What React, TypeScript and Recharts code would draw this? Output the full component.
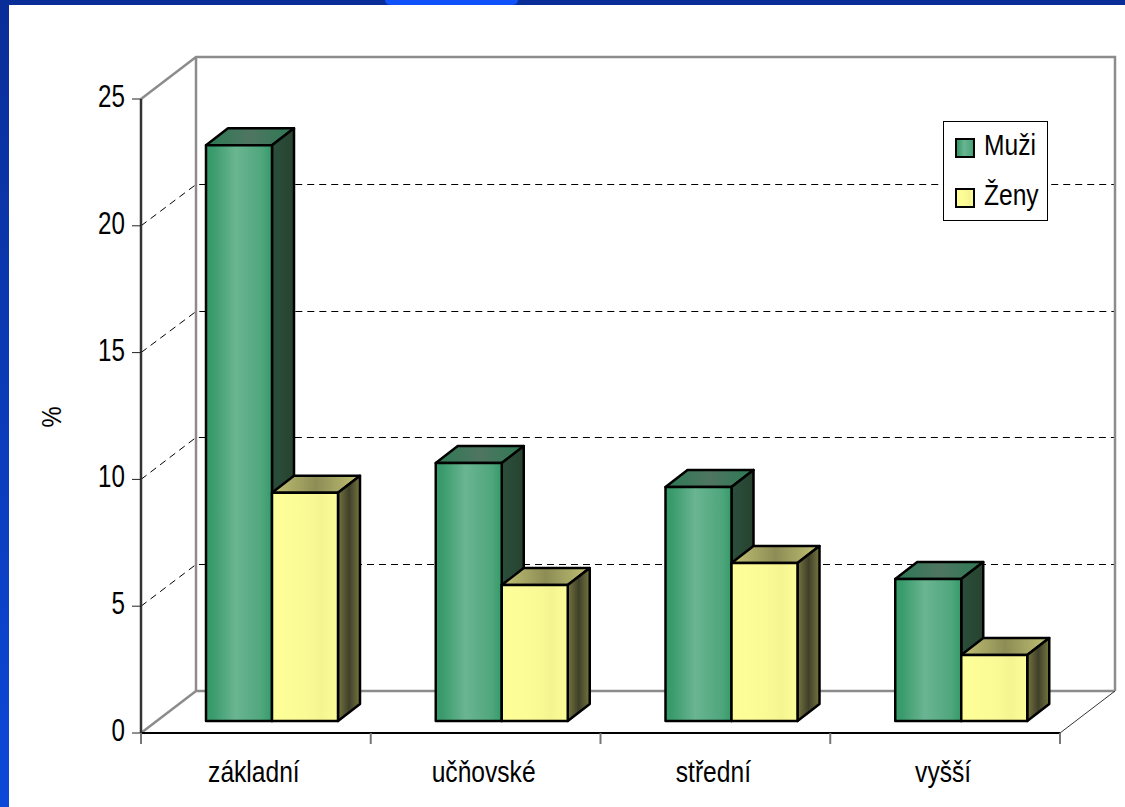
import { BarChart, Bar, XAxis, YAxis, CartesianGrid, Legend } from 'recharts';

const categories = ['základní', 'učňovské', 'střední', 'vyšší'];
const muzi = [22.7, 10.17, 9.23, 5.6];
const zeny = [9.0, 5.36, 6.23, 2.6];
const yTicks = [0, 5, 10, 15, 20, 25];

const data = categories.map((name, i) => ({ name, muzi: muzi[i], zeny: zeny[i] }));

// plot box of the front plane
const LEFT = 141;
const TOP = 99;
const PLOT_W = 919;
const PLOT_H = 634;
const X_AXIS_H = 30;
// depth of the 3D box and of the bars
const WALL_DX = 55;
const WALL_DY = 42;
const BAR_SHIFT_X = 16;
const BAR_SHIFT_Y = 12;
const BAR_DX = 22;
const BAR_DY = 17;
const BAND = PLOT_W / categories.length;
const FONT = 'Liberation Sans, Arial, sans-serif';

function Wall(props: any) {
  const { x1, y1, x2 } = props;
  const bx1 = x1 + WALL_DX;
  const bx2 = x2 + WALL_DX;
  const by = y1 - WALL_DY;
  if (Math.abs(y1 - TOP) < 1) {
    // top of the box and both back wall edges
    return (
      <g fill="none" stroke="#8c8c8c" strokeWidth={2.5}>
        <path d={`M${x1} ${y1}L${bx1} ${by}L${bx2} ${by}L${bx2} ${by + PLOT_H}`} />
        <path d={`M${bx1} ${by}L${bx1} ${by + PLOT_H}`} />
      </g>
    );
  }
  if (Math.abs(y1 - (TOP + PLOT_H)) < 1) {
    return (
      <g fill="none" strokeWidth={2.5}>
        <path d={`M${x1} ${y1}L${bx1} ${by}L${bx2} ${by}`} stroke="#8c8c8c" />
        <path d={`M${x2} ${y1}L${bx2} ${by}`} stroke="#333" strokeWidth={1} />
      </g>
    );
  }
  const crisp = Math.round(by) + 0.5;
  return (
    <path
      d={`M${x1} ${y1}L${bx1} ${crisp}L${bx2} ${crisp}`}
      fill="none"
      stroke="#000"
      strokeWidth={1}
      strokeDasharray="7 5"
    />
  );
}

function Box3D(props: any) {
  const { x, y, width, height, front, topFace, side } = props;
  const fx = x + BAR_SHIFT_X;
  const fy = y - BAR_SHIFT_Y;
  const base = fy + height;
  const r = fx + width;
  return (
    <g stroke="#000" strokeWidth={2.5} strokeLinejoin="round">
      <path d={`M${fx} ${fy}L${fx + BAR_DX} ${fy - BAR_DY}L${r + BAR_DX} ${fy - BAR_DY}L${r} ${fy}Z`} fill={topFace} />
      <path d={`M${r} ${fy}L${r + BAR_DX} ${fy - BAR_DY}L${r + BAR_DX} ${base - BAR_DY}L${r} ${base}Z`} fill={side} />
      <rect x={fx} y={fy} width={width} height={height} fill={front} />
    </g>
  );
}

function YTick(props: any) {
  const { x, y, payload } = props;
  return (
    <text transform={`translate(${x} ${y + 8}) scale(0.78 1)`} textAnchor="end" fontSize={31} fontFamily={FONT} fill="#000">
      {payload.value}
    </text>
  );
}

function XTick(props: any) {
  const { x, y, payload, index } = props;
  const axisY = TOP + PLOT_H;
  return (
    <g>
      <line x1={x + BAND / 2} x2={x + BAND / 2} y1={axisY} y2={axisY + 11} stroke="#777" strokeWidth={2} />
      {index === 0 && <line x1={x - BAND / 2} x2={x - BAND / 2} y1={axisY} y2={axisY + 11} stroke="#777" strokeWidth={2} />}
      <text transform={`translate(${x - 2} ${y + 41}) scale(0.82 1)`} textAnchor="middle" fontSize={30} fontFamily={FONT} fill="#000">
        {payload.value}
      </text>
    </g>
  );
}

function LegendBox(props: any) {
  const { payload } = props;
  return (
    <svg width={105} height={100} style={{ display: 'block' }}>
      <rect x={0.5} y={0.5} width={104} height={99} fill="#fff" stroke="#000" />
      {(payload || []).map((entry: any, i: number) => (
        <g key={entry.value}>
          <rect x={13} y={18 + i * 50} width={18} height={18} fill={entry.color} stroke="#000" strokeWidth={2} />
          <text transform={`translate(41 ${34 + i * 50}) scale(0.82 1)`} fontSize={30} fontFamily={FONT} fill="#000">
            {entry.value}
          </text>
        </g>
      ))}
    </svg>
  );
}

function PercentLabel() {
  return (
    <text transform="translate(61 417) rotate(-90) scale(0.85 1)" textAnchor="middle" fontSize={28} fontFamily={FONT} fill="#000">
      %
    </text>
  );
}

function Grad({ id, stops }: { id: string; stops: [number, string][] }) {
  return (
    <linearGradient id={id} x1="0" y1="0" x2="1" y2="0">
      {stops.map(([o, c]) => (
        <stop key={o} offset={o} stopColor={c} />
      ))}
    </linearGradient>
  );
}

export default function App() {
  return (
    <div style={{ position: 'absolute', left: 0, top: 0, width: 1125, height: 807, overflow: 'hidden', background: '#fff' }}>
      <div style={{ position: 'absolute', left: 0, top: 0, width: 9, height: 807, background: 'linear-gradient(#0a2e98, #0c48d8)' }} />
      <div style={{ position: 'absolute', left: 0, top: 0, width: 1125, height: 5, background: '#0a2e98' }} />
      <div style={{ position: 'absolute', left: 385, top: 0, width: 133, height: 5, background: '#0f52fa', borderRadius: '0 0 20px 20px' }} />
      <div style={{ position: 'absolute', left: 0, top: 0 }}>
        <BarChart
          width={1125}
          height={807}
          data={data}
          barSize={66}
          barGap={0}
          barCategoryGap={0}
          margin={{ left: 0, top: TOP, right: 1125 - LEFT - PLOT_W, bottom: 807 - TOP - PLOT_H - X_AXIS_H }}
        >
          <defs>
            <Grad id="mFront" stops={[[0, '#359a69'], [0.1, '#3a9b6c'], [0.45, '#6ab592'], [0.85, '#4fa67d'], [1, '#359a69']]} />
            <Grad id="mTop" stops={[[0, '#2c7a54'], [0.5, '#4f7561'], [1, '#2c7a54']]} />
            <Grad id="mSide" stops={[[0, '#2a4f3c'], [1, '#27432f']]} />
            <Grad id="zFront" stops={[[0, '#ffff99'], [0.5, '#fbfb96'], [0.75, '#f4f491'], [1, '#fdfd98']]} />
            <Grad id="zTop" stops={[[0, '#c2c274'], [0.5, '#8c8c55'], [1, '#c2c274']]} />
            <Grad id="zSide" stops={[[0, '#75753f'], [0.5, '#40402a'], [1, '#75753f']]} />
          </defs>
          <CartesianGrid vertical={false} horizontal={(p: any) => <Wall {...p} key={p.key} />} />
          <XAxis
            dataKey="name"
            height={X_AXIS_H}
            axisLine={{ stroke: '#000', strokeWidth: 2 }}
            tickLine={false}
            tick={<XTick />}
            interval={0}
          />
          <YAxis
            domain={[0, 25]}
            ticks={yTicks}
            width={LEFT}
            axisLine={{ stroke: '#333', strokeWidth: 2.5 }}
            tickLine={{ stroke: '#222', strokeWidth: 1 }}
            tickSize={9}
            tickMargin={7}
            tick={<YTick />}
            label={<PercentLabel />}
          />
          <Bar
            dataKey="muzi"
            name="Muži"
            fill="url(#mFront)"
            isAnimationActive={false}
            shape={(p: any) => <Box3D {...p} front="url(#mFront)" topFace="url(#mTop)" side="url(#mSide)" />}
          />
          <Bar
            dataKey="zeny"
            name="Ženy"
            fill="url(#zFront)"
            isAnimationActive={false}
            shape={(p: any) => <Box3D {...p} front="url(#zFront)" topFace="url(#zTop)" side="url(#zSide)" />}
          />
          <Legend
            layout="vertical"
            align="center"
            verticalAlign="middle"
            content={<LegendBox />}
            wrapperStyle={{ position: 'absolute', left: 943, top: 121, width: 105, height: 100, bottom: 'auto' }}
          />
        </BarChart>
      </div>
    </div>
  );
}
